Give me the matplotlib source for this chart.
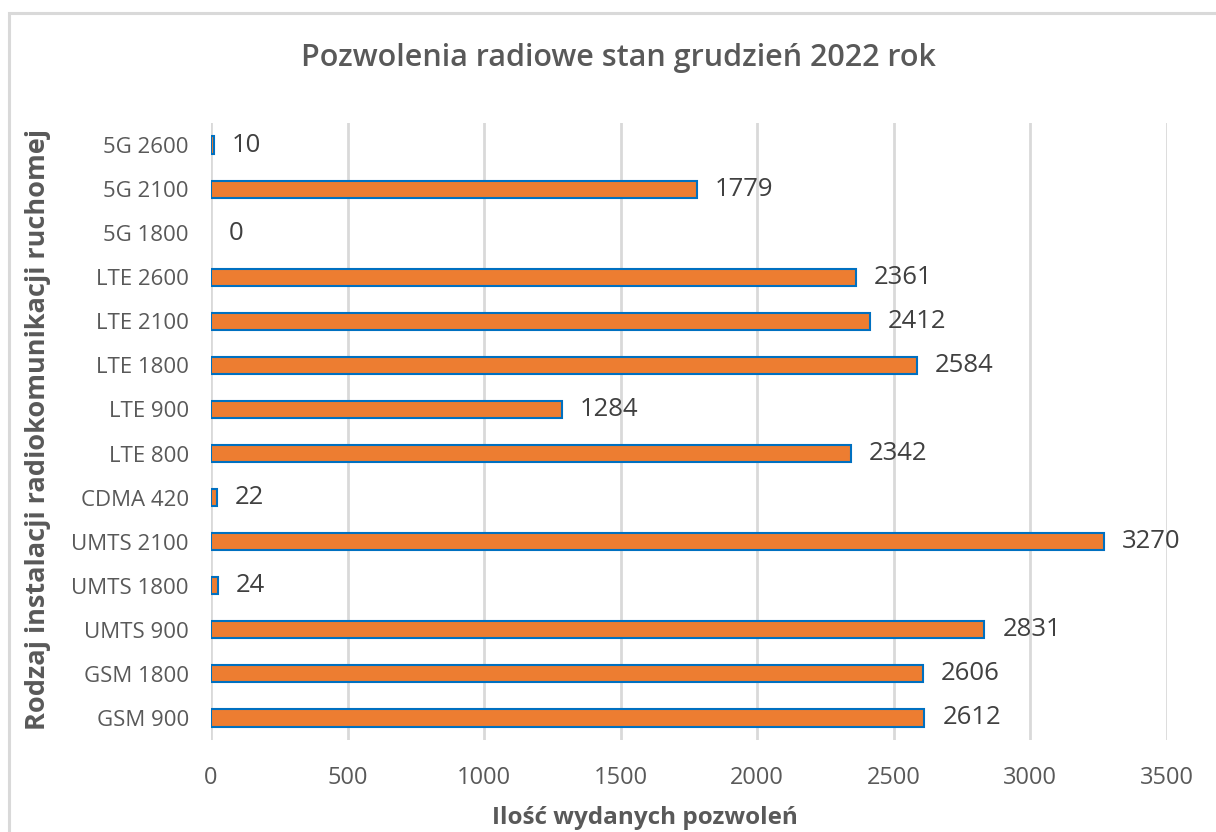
import matplotlib
matplotlib.use("Agg")
import matplotlib.pyplot as plt
from matplotlib.patches import Rectangle

categories = ["GSM 900", "GSM 1800", "UMTS 900", "UMTS 1800", "UMTS 2100", "CDMA 420",
              "LTE 800", "LTE 900", "LTE 1800", "LTE 2100", "LTE 2600",
              "5G 1800", "5G 2100", "5G 2600"]
values = [2612, 2606, 2831, 24, 3270, 22, 2342, 1284, 2584, 2412, 2361, 0, 1779, 10]
xticks = [0, 500, 1000, 1500, 2000, 2500, 3000, 3500]

title = "Pozwolenia radiowe stan grudzień 2022 rok"
xlabel = "Ilość wydanych pozwoleń"
ylabel = "Rodzaj instalacji radiokomunikacji ruchomej"

plt.rcParams['font.family'] = ['Open Sans', 'DejaVu Sans']

fig = plt.figure(figsize=(12.16, 8.32), dpi=100)
ax = fig.add_axes([211/1216, 1 - 740/832, (1167 - 211)/1216, (740 - 123)/832])

# outer chart border (extends beyond image right/bottom)
fig.patches.append(Rectangle((9/1216, -0.05), 1.1, 1 - 13/832 + 0.05,
                             transform=fig.transFigure, fill=False,
                             edgecolor="#D9D9D9", linewidth=2.2, zorder=0))

y = list(range(len(categories)))
lws = [0 if v == 0 else 1.5 for v in values]
ax.barh(y, values, height=0.39, color="#ED7D31", edgecolor="#0070C0",
        linewidth=lws, zorder=3)

for yi, v in zip(y, values):
    ax.annotate(str(v), xy=(v, yi), xytext=(13, 0), textcoords="offset points",
                ha="left", va="center", fontsize=18.5, color="#404040")

ax.set_xlim(0, 3500)
ax.set_ylim(-0.5, len(categories) - 0.5)
ax.set_xticks(xticks)
ax.set_xticklabels([str(t) for t in xticks], fontsize=17, color="#595959")
ax.set_yticks(y)
ax.set_yticklabels(categories, fontsize=16, color="#595959")
ax.tick_params(axis="both", length=0)
ax.tick_params(axis="x", pad=19)
ax.tick_params(axis="y", pad=16)
ax.grid(axis="x", color="#D9D9D9", linewidth=2.0, zorder=0)
ax.set_axisbelow(True)
for s in ax.spines.values():
    s.set_visible(False)

fig.text(618/1216, 1 - 58/832, title, ha="center", va="center",
         fontsize=22, color="#595959", fontweight="semibold")
fig.text(645/1216, 1 - 818/832, xlabel, ha="center", va="center",
         fontsize=17.5, color="#595959", fontweight="bold")
fig.text(38/1216, 1 - 430/832, ylabel, ha="center", va="center", rotation=90,
         fontsize=19.5, color="#595959", fontweight="bold")

fig.savefig("out.png", dpi=100)
